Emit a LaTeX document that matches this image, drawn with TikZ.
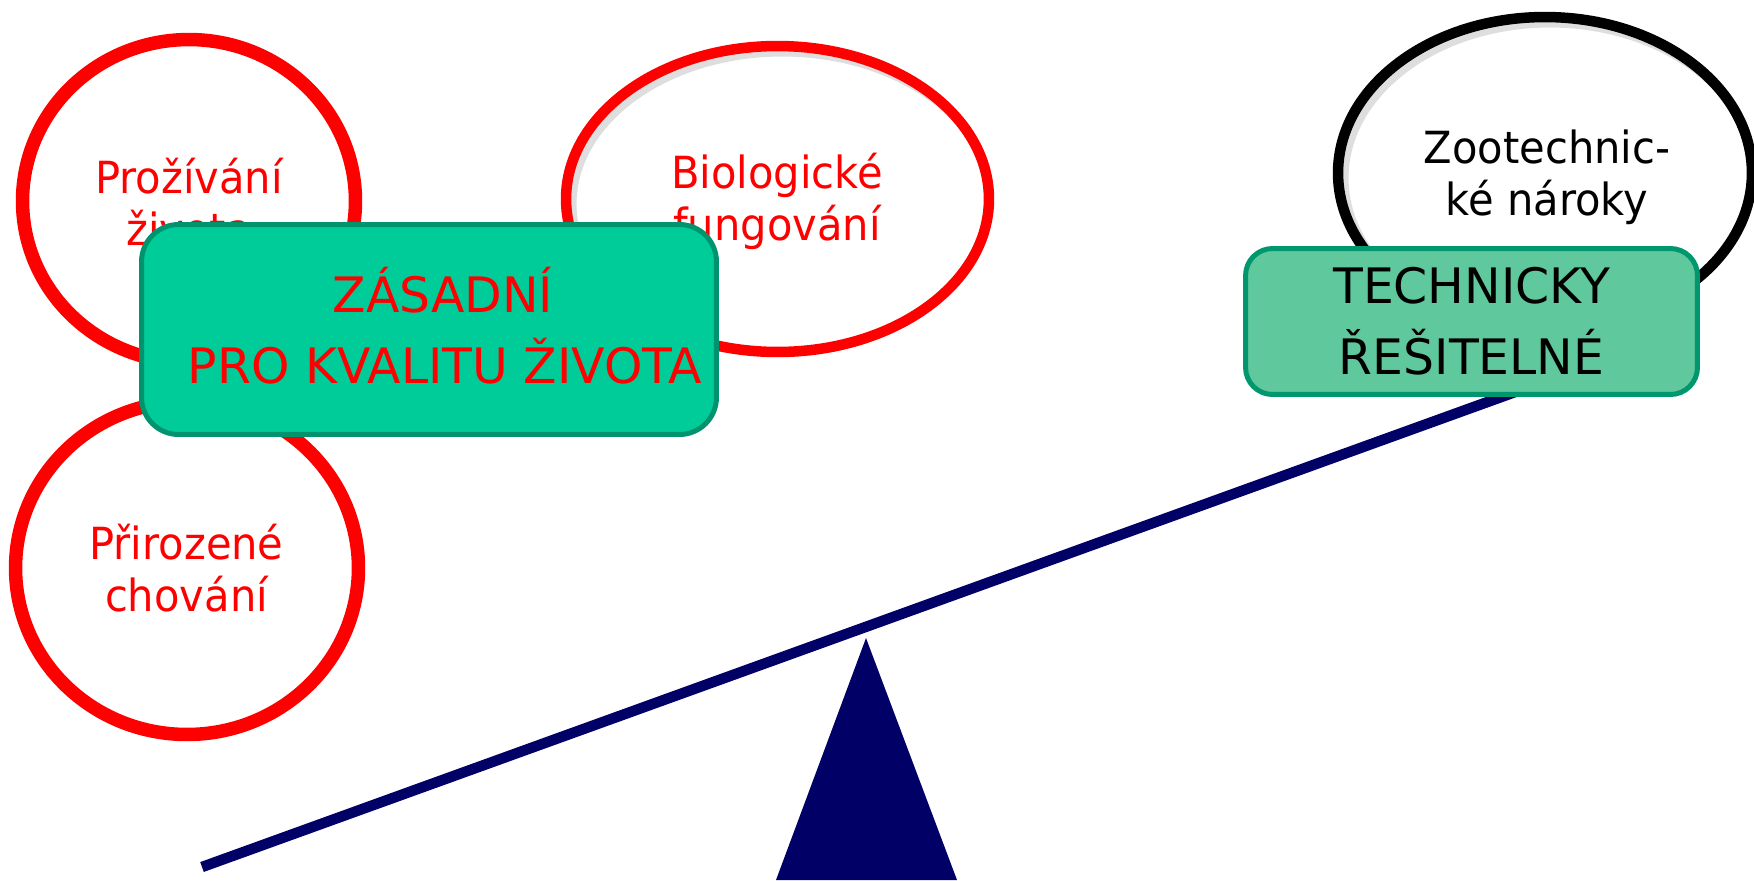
\documentclass[tikz,border=0pt]{standalone}
\usepackage{fontspec}
\setmainfont{DejaVu Sans}
\newfontfamily\narrowfont[FakeStretch=0.94]{DejaVu Sans}
\usetikzlibrary{shapes.geometric}
\definecolor{cred}{HTML}{FF0000}
\definecolor{navy}{HTML}{000066}
\definecolor{boxa}{HTML}{00CC99}
\definecolor{boxaedge}{HTML}{00936E}
\definecolor{boxb}{HTML}{5FC89C}
\definecolor{boxbedge}{HTML}{00966E}
\begin{document}
\begin{tikzpicture}[x={(0.02cm,0)},y={(0,-0.02cm)},
  ell/.style={ellipse,draw,inner sep=0pt},
  small/.style={font=\narrowfont\fontsize{25.2pt}{30pt}\selectfont,inner sep=0pt,anchor=base},
  big/.style={font=\fontsize{27.8pt}{34pt}\selectfont,inner sep=0pt,anchor=base},
  boxstyle/.style={rectangle,draw,line width=0.1cm,inner sep=0pt},
  shadowline/.style={draw=black,opacity=0.13,line width=0.22cm}]
\useasboundingbox (0,0) rectangle (1754,880);
% inner shadows
\begin{scope}
  \clip (777.5,199) ellipse [x radius=4.23cm, y radius=3.06cm];
  \draw[shadowline] (782.5,204) ellipse [x radius=4.23cm, y radius=3.06cm];
\end{scope}
\begin{scope}
  \clip (1545,173) ellipse [x radius=4.14cm, y radius=3.12cm];
  \draw[shadowline] (1550,178) ellipse [x radius=4.14cm, y radius=3.12cm];
\end{scope}
% ellipses
\node[ell,draw=cred,line width=0.27cm,minimum width=6.66cm,minimum height=6.46cm] (e1) at (189,201) {};
\node[ell,draw=cred,line width=0.21cm,minimum width=8.46cm,minimum height=6.12cm] (e2) at (777.5,199) {};
\node[ell,draw=cred,line width=0.27cm,minimum width=6.86cm,minimum height=6.66cm] (e3) at (187,568) {};
\node[ell,draw=black,line width=0.21cm,minimum width=8.28cm,minimum height=6.24cm] (e4) at (1545,173) {};
% ellipse texts
\node[small,text=cred] (t1a) at (189,193) {Prožívání};
\node[small,text=cred] (t1b) at (189,245) {života};
\node[small,text=cred] (t2a) at (777,188) {Biologické};
\node[small,text=cred] (t2b) at (777,240) {fungování};
\node[small,text=cred] (t3a) at (186.5,559) {Přirozené};
\node[small,text=cred] (t3b) at (186.5,611) {chování};
\node[small,text=black] (t4a) at (1547,163) {Zootechnic-};
\node[small,text=black] (t4b) at (1547,215) {ké nároky};
% beam and pivot
\coordinate (bl) at (202,867);
\coordinate (br) at (1540,383);
\draw[navy,line width=0.21cm] (bl) -- (br);
\coordinate (apex) at (866,638);
\coordinate (bL) at (776,880);
\coordinate (bR) at (957,880);
\fill[navy] (apex) -- (bL) -- (bR) -- cycle;
% boxes
\node[boxstyle,draw=boxaedge,fill=boxa,rounded corners=0.74cm,minimum width=11.5cm,minimum height=4.2cm] (b1) at (429,329.5) {};
\node[big,text=cred] (b1a) at (443,312) {ZÁSADNÍ};
\node[big,text=cred] (b1b) at (445,383) {PRO KVALITU ŽIVOTA};
\node[boxstyle,draw=boxbedge,fill=boxb,rounded corners=0.54cm,minimum width=9.04cm,minimum height=2.92cm] (b2) at (1471.5,321.5) {};
\node[big,text=black] (b2a) at (1471.5,303) {TECHNICKY};
\node[big,text=black] (b2b) at (1471.5,374) {ŘEŠITELNÉ};
\end{tikzpicture}
\end{document}
